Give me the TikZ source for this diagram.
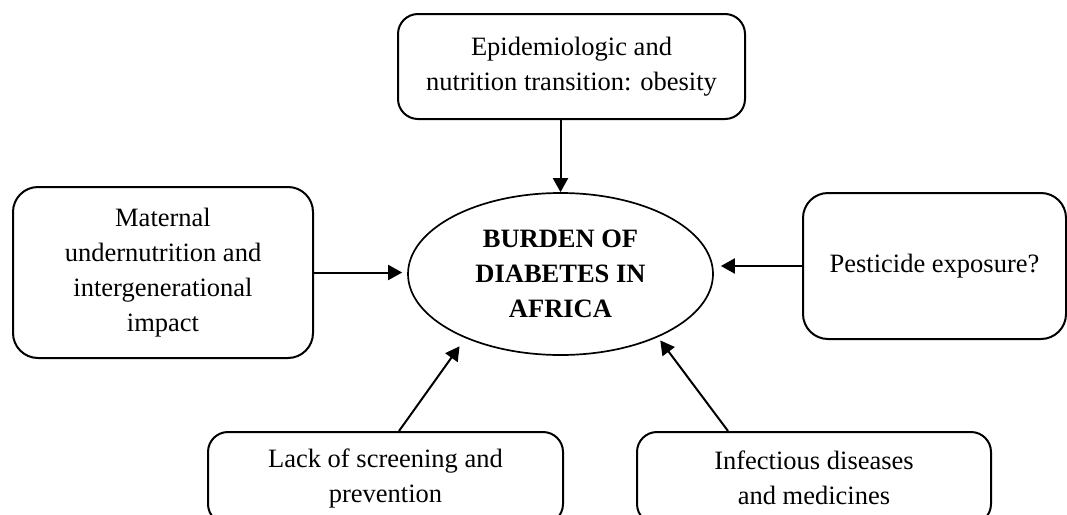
\documentclass[tikz,border=0pt]{standalone}
\usepackage{fontspec}
\setmainfont{Liberation Serif}
\usetikzlibrary{arrows.meta,shapes.geometric}
\begin{document}
\begin{tikzpicture}[x=1pt,y=-1pt,
  box/.style={draw, line width=2pt, rounded corners=20pt, align=center, inner sep=0pt,
    font=\fontsize{26.5}{35}\selectfont},
  arr/.style={line width=2pt, -{Triangle[length=14pt,width=15pt]}},
  ]
\clip (0,0) rectangle (1067,514);
\node[box, minimum width=347pt, minimum height=105pt] (top) at (571.5,66.5)
  {Epidemiologic and\\nutrition transition: obesity};
\node[box, minimum width=300pt, minimum height=171pt, rounded corners=25pt] (left) at (163,272.5)
  {Maternal\\undernutrition and\\intergenerational\\impact};
\node[box, minimum width=263pt, minimum height=146pt, rounded corners=25pt] (right) at (934.5,266)
  {Pesticide exposure?};
\node[box, minimum width=355pt, minimum height=92pt] (bl) at (385.5,478)
  {Lack of screening and\\prevention};
\node[box, minimum width=354pt, minimum height=92pt] (br) at (814,478)
  {Infectious diseases\\and medicines};
\node[draw, ellipse, line width=1.7pt, minimum width=305pt, minimum height=162pt, inner sep=0pt,
  align=center, font=\fontsize{26.5}{35}\selectfont\bfseries] (ell) at (560.5,274)
  {BURDEN OF\\DIABETES IN\\AFRICA};
\draw[arr] (ell.north |- top.south) -- (ell.north);
\draw[arr, shorten >=5pt] (left.east) -- (left.east -| ell.west);
\draw[arr, shorten >=7pt] (right.west) -- (right.west -| ell.east);
\draw[arr, shorten >=10pt] ([xshift=13.5pt]bl.north) -- (ell.214);
\draw[arr, shorten >=4pt] ([xshift=-86pt]br.north) -- (ell.327);
\end{tikzpicture}
\end{document}
